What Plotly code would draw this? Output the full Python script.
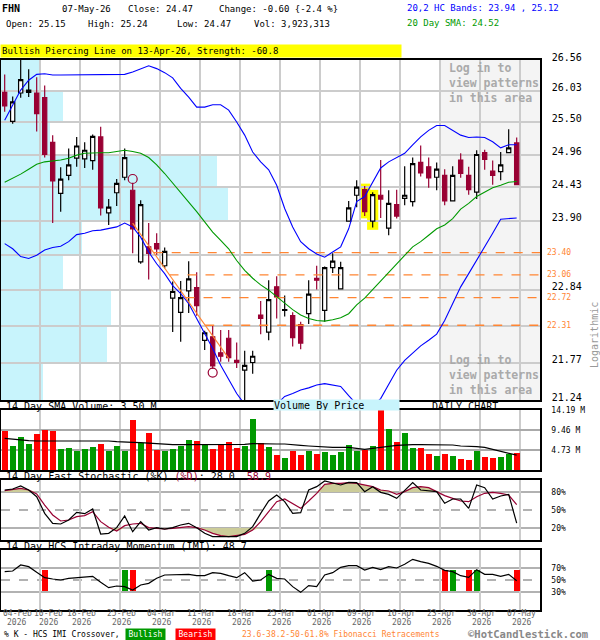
import math
import plotly.graph_objects as go

# ---- data (FHN daily, 04-Feb-26 .. 07-May-26) ----
tick_idx = [0, 4, 9, 14, 19, 24, 29, 34, 39, 44, 49, 54, 59, 64]
tick_lbl = ['04-Feb', '10-Feb', '18-Feb', '25-Feb', '04-Mar', '11-Mar', '18-Mar',
            '25-Mar', '01-Apr', '09-Apr', '16-Apr', '23-Apr', '30-Apr', '07-May']
tick_year = '2026'

open_ = [26.00, 25.51, 25.99, 26.00, 25.99, 25.91, 25.16, 24.33, 24.62, 24.90,
         24.89, 24.86, 25.25, 24.02, 24.34, 24.59, 24.38, 23.26, 23.49, 23.54,
         23.20, 22.71, 22.50, 22.82, 22.87, 22.09, 22.14, 21.91, 22.12, 21.80,
         21.66, 21.77, 22.46, 22.21, 22.88, 22.53, 22.45, 22.32, 22.48, 23.01,
         22.53, 23.17, 22.85, 23.89, 24.30, 24.39, 23.89, 24.30, 23.78, 24.15,
         24.25, 24.20, 24.83, 24.76, 24.59, 24.62, 24.21, 24.87, 24.62, 24.35,
         24.99, 24.69, 24.68, 24.99, 25.15]
high = [26.31, 25.93, 26.56, 26.40, 26.26, 26.12, 25.28, 24.75, 25.06, 25.25,
        25.16, 25.29, 25.42, 24.24, 24.56, 25.06, 24.50, 24.22, 23.86, 23.70,
        23.48, 22.96, 22.97, 23.27, 23.10, 22.23, 22.31, 22.24, 22.24, 22.06,
        21.94, 21.94, 22.67, 22.98, 23.04, 22.75, 22.50, 22.36, 22.98, 23.20,
        23.19, 23.39, 23.26, 24.21, 24.54, 24.45, 24.35, 24.87, 24.38, 24.39,
        24.77, 24.91, 25.11, 24.91, 24.83, 24.72, 24.77, 24.98, 24.76, 25.03,
        25.04, 24.86, 25.00, 25.38, 25.24]
low = [25.67, 25.47, 25.91, 25.92, 25.34, 24.91, 23.86, 24.04, 24.54, 24.76,
       24.74, 24.71, 23.98, 23.83, 24.13, 24.54, 23.39, 23.23, 22.99, 23.37,
       23.16, 22.21, 22.07, 22.49, 22.45, 21.95, 21.68, 21.78, 21.78, 21.69,
       21.24, 21.61, 22.18, 22.09, 22.41, 22.44, 22.00, 21.96, 22.33, 22.84,
       22.36, 23.09, 22.85, 23.88, 24.11, 23.97, 23.79, 23.94, 23.67, 23.93,
       24.14, 24.12, 24.60, 24.42, 24.38, 24.14, 24.21, 24.58, 24.31, 24.24,
       24.71, 24.47, 24.54, 24.99, 24.47]
close = [25.77, 25.84, 26.22, 26.04, 25.64, 24.96, 24.53, 24.56, 24.79, 25.10,
         25.03, 25.26, 24.10, 24.11, 24.49, 24.91, 23.77, 24.15, 23.39, 23.46,
         23.42, 22.81, 22.72, 23.00, 22.60, 22.20, 21.72, 21.86, 21.84, 21.77,
         21.73, 21.86, 22.41, 22.69, 22.73, 22.54, 22.13, 22.05, 22.77, 22.98,
         23.17, 23.27, 23.17, 24.10, 24.43, 24.04, 24.31, 24.24, 24.17, 23.97,
         24.30, 24.81, 24.66, 24.58, 24.72, 24.21, 24.62, 24.65, 24.39, 24.96,
         24.88, 24.62, 24.79, 25.07, 24.47]
volume = [9.30, 5.68, 7.80, 6.15, 8.51, 9.46, 9.30, 5.04, 5.20, 4.57,
          4.97, 5.44, 6.15, 4.57, 5.68, 4.57, 11.83, 6.46, 8.75, 4.73,
          4.57, 4.97, 5.75, 7.10, 6.86, 6.15, 4.97, 5.91, 6.54, 5.20,
          5.75, 12.06, 6.31, 5.44, 3.55, 2.84, 4.49, 3.55, 4.49, 3.78,
          4.26, 3.55, 4.26, 5.91, 4.57, 4.73, 5.68, 14.19, 9.70, 6.62,
          8.67, 5.20, 5.20, 3.78, 3.31, 3.78, 3.31, 2.68, 2.37, 4.49,
          3.07, 2.84, 3.07, 3.78, 3.923313]
vol_sma = [7.49, 7.25, 7.02, 6.94, 6.86, 6.86, 6.86, 6.86, 6.86, 6.86,
           6.86, 6.86, 6.94, 6.86, 6.70, 6.54, 6.54, 6.46, 6.31, 6.15,
           6.07, 6.00, 6.00, 6.00, 6.00, 6.00, 6.00, 6.07, 6.07, 6.07,
           6.07, 6.23, 6.15, 6.15, 6.15, 6.15, 5.91, 5.83, 5.68, 5.52,
           5.36, 5.36, 5.36, 5.36, 5.12, 4.89, 5.12, 5.44, 5.60, 5.83,
           6.00, 6.00, 6.00, 6.00, 6.00, 6.00, 5.91, 5.68, 5.68, 5.52,
           5.36, 4.89, 4.49, 4.10, 3.50]
band_up = [25.53, 25.78, 26.04, 26.21, 26.31, 26.32, 26.30, 26.30, 26.30, 26.30,
           26.30, 26.30, 26.30, 26.30, 26.30, 26.31, 26.35, 26.41, 26.46, 26.41,
           26.34, 26.25, 26.07, 25.92, 25.75, 25.75, 25.79, 25.79, 25.70, 25.50,
           25.28, 25.00, 24.84, 24.71, 24.46, 24.09, 23.80, 23.57, 23.46, 23.38,
           23.33, 23.41, 23.49, 23.77, 24.20, 24.28, 24.52, 24.74, 24.84, 24.91,
           24.98, 25.12, 25.25, 25.36, 25.44, 25.44, 25.36, 25.28, 25.24, 25.25,
           25.24, 25.17, 25.07, 25.12, 25.12]
band_lo = [23.54, 23.46, 23.34, 23.31, 23.36, 23.44, 23.48, 23.50, 23.57, 23.68,
           23.70, 23.74, 23.75, 23.77, 23.80, 23.86, 23.80, 23.64, 23.41, 23.23,
           23.08, 22.90, 22.78, 22.63, 22.41, 22.19, 21.97, 21.73, 21.52, 21.33,
           21.18, 21.10, 21.05, 21.08, 21.18, 21.29, 21.33, 21.38, 21.41, 21.45,
           21.47, 21.45, 21.43, 21.30, 21.18, 21.12, 21.15, 21.26, 21.45, 21.66,
           21.80, 21.91, 22.01, 22.09, 22.18, 22.38, 22.63, 22.88, 23.08, 23.28,
           23.49, 23.70, 23.92, 23.93, 23.94]
sma20 = [24.51, 24.57, 24.64, 24.72, 24.80, 24.84, 24.85, 24.87, 24.90, 24.95,
         24.98, 24.99, 24.99, 24.99, 25.01, 25.03, 25.01, 24.98, 24.91, 24.79,
         24.65, 24.49, 24.33, 24.19, 24.04, 23.88, 23.72, 23.59, 23.46, 23.28,
         23.13, 23.01, 22.91, 22.83, 22.73, 22.63, 22.54, 22.46, 22.41, 22.38,
         22.37, 22.39, 22.42, 22.48, 22.61, 22.71, 22.84, 22.98, 23.11, 23.23,
         23.36, 23.49, 23.57, 23.67, 23.77, 23.83, 23.93, 24.08, 24.17, 24.28,
         24.35, 24.42, 24.46, 24.51, 24.52]
stoch_k = [83.3, 85.0, 90.0, 83.3, 72.2, 44.4, 27.8, 26.7, 33.3, 46.1,
           43.9, 51.7, 10.0, 11.1, 20.6, 40.0, 13.9, 30.6, 16.7, 20.6,
           18.3, 20.6, 25.0, 27.8, 20.6, 11.1, 5.6, 5.6, 5.6, 5.6,
           11.1, 22.2, 44.4, 65.0, 75.0, 63.9, 44.4, 45.6, 83.3, 88.9,
           98.3, 94.4, 91.7, 96.1, 95.6, 80.6, 88.9, 79.4, 76.1, 69.4,
           83.3, 95.6, 83.3, 81.7, 80.6, 61.1, 68.3, 68.3, 52.8, 91.7,
           87.2, 68.3, 73.3, 76.1, 28.0]
stoch_d = [82.2, 84.4, 86.1, 83.3, 76.7, 58.3, 41.7, 31.7, 33.3, 38.9,
           40.6, 47.2, 30.6, 21.1, 15.0, 23.9, 26.7, 27.8, 20.6, 19.4,
           18.3, 19.4, 21.1, 22.2, 20.6, 16.7, 11.1, 7.2, 5.6, 7.2,
           9.4, 16.7, 30.6, 47.2, 63.9, 68.3, 61.1, 52.8, 65.0, 77.8,
           92.8, 94.4, 94.4, 95.6, 94.4, 91.7, 88.9, 83.3, 81.7, 76.1,
           80.6, 87.2, 88.9, 87.2, 80.6, 73.9, 69.4, 65.0, 63.9, 72.2,
           77.8, 79.4, 77.8, 75.0, 58.9]
imi = [63.9, 65.0, 75.0, 72.2, 62.8, 53.9, 51.7, 50.0, 52.8, 53.9,
       53.9, 56.1, 46.1, 37.2, 40.0, 38.9, 33.3, 41.7, 44.4, 52.8,
       58.3, 58.3, 59.4, 59.4, 57.2, 57.2, 62.2, 61.1, 57.2, 53.9,
       62.2, 48.3, 50.0, 59.4, 52.8, 51.7, 38.9, 29.4, 40.6, 38.9,
       58.3, 62.2, 71.1, 73.9, 73.9, 66.7, 71.1, 67.2, 72.2, 70.0,
       76.1, 84.4, 80.6, 77.8, 72.8, 66.1, 63.9, 57.2, 54.4, 67.2,
       59.4, 59.4, 56.1, 59.4, 48.7]
cross_idx = [5, 15, 16, 33, 55, 56, 58, 59, 64]
cross_bull = [False, True, False, True, False, True, False, True, False]

# volume by price (millions) per price band, top band first
vbp_edges = [26.56, 26.03, 25.50, 24.96, 24.43, 23.90, 23.37, 22.84, 22.30, 21.77, 21.24]
vbp_vol = [3.8, 6.2, 4.9, 21.6, 22.7, 8.1, 6.2, 11.0, 10.6, 4.2]

pattern_idx = [45, 46]          # Bullish Piercing Line candles
fib_hi_idx, fib_lo_idx = 16, 26
trend_x = [16, 28]
trend_y = [23.86, 21.83]
fib_levels = [23.40, 23.06, 22.72, 22.31]
login_from = 54                 # 23-Apr

# ---- styling ----
FONT = 'DejaVu Sans Mono'
RED_C = '#990033'
GRID = '#cccccc'
ORANGE = '#ff8533'
CYAN = '#c8f4fc'
N = len(close)
xs = list(range(N))
XR = [-0.46, 66.915]


def ppy(p):
    return (610 - p) / 550


def ppx(q):
    return (q - 1) / 539


fig = go.Figure()
shapes = []

# gray "log in" area
shapes.append(dict(type='rect', xref='x', yref='y domain', x0=login_from + 0.4, x1=XR[1],
                   y0=0, y1=1, fillcolor='#f4f4f4', line=dict(width=0), layer='below'))
shapes.append(dict(type='line', xref='x', yref='y domain', x0=login_from + 0.4,
                   x1=login_from + 0.4, y0=0, y1=1, line=dict(color='#999999', width=1.5),
                   layer='below'))

# volume by price bands (on the hidden x2 scale)
for k, v in enumerate(vbp_vol):
    shapes.append(dict(type='rect', xref='x2', yref='y', x0=0, x1=v,
                       y0=vbp_edges[k + 1], y1=vbp_edges[k], fillcolor=CYAN,
                       line=dict(width=0), layer='below'))

# pattern highlight
for i in pattern_idx:
    shapes.append(dict(type='rect', xref='x', yref='y', x0=i - 0.7, x1=i + 0.7,
                       y0=low[i] / 1.0015, y1=high[i] * 1.0015, fillcolor='#ffff00',
                       line=dict(width=0), layer='below'))

for ax, levels in (('4', (20, 50, 80)), ('5', (30, 50, 70))):
    for lv in levels:
        shapes.append(dict(type='line', xref=f'x{ax} domain', yref=f'y{ax}', x0=0, x1=1,
                           y0=lv, y1=lv, layer='below',
                           line=dict(color='#999999', width=1.5,
                                     dash='dash' if lv == 50 else 'solid')))

fig.add_trace(go.Candlestick(
    x=xs, open=open_, high=high, low=low, close=close,
    increasing=dict(line=dict(color='black', width=1.2), fillcolor='white'),
    decreasing=dict(line=dict(color=RED_C, width=1.2), fillcolor=RED_C),
    whiskerwidth=0, hoverinfo='skip'))


# fibonacci retracement lines start where the trend line crosses them
def fib_start(level):
    l0, l1 = math.log(trend_y[0]), math.log(trend_y[1])
    t = (l0 - math.log(level)) / (l0 - l1)
    return trend_x[0] + t * (trend_x[1] - trend_x[0])


for lv in fib_levels:
    fig.add_trace(go.Scatter(x=[fib_start(lv), XR[1]], y=[lv, lv], mode='lines',
                             line=dict(color=ORANGE, width=1.3, dash='dash')))

fig.add_trace(go.Scatter(x=xs, y=band_up, mode='lines', line=dict(color='#0000ff', width=1.1)))
fig.add_trace(go.Scatter(x=xs, y=band_lo, mode='lines', line=dict(color='#0000ff', width=1.1)))
fig.add_trace(go.Scatter(x=xs, y=sma20, mode='lines', line=dict(color='#009900', width=1.1)))
fig.add_trace(go.Scatter(x=trend_x, y=trend_y, mode='lines', line=dict(color=ORANGE, width=1.1)))
fig.add_trace(go.Scatter(x=[fib_hi_idx, fib_lo_idx],
                         y=[high[fib_hi_idx] * 1.0025, low[fib_lo_idx] / 1.0025],
                         mode='markers', marker=dict(symbol='circle-open', size=9,
                                                     color=RED_C, line=dict(width=1.2))))

# volume panel
vcol = ['#009900' if c >= o else '#ff0000' for o, c in zip(open_, close)]
fig.add_trace(go.Bar(x=xs, y=volume, marker=dict(color=vcol, line=dict(width=0)), width=0.75,
                     xaxis='x3', yaxis='y3'))
fig.add_trace(go.Scatter(x=xs, y=vol_sma, mode='lines', line=dict(color='black', width=1.2),
                         xaxis='x3', yaxis='y3'))

# stochastic panel
fig.add_trace(go.Scatter(x=xs, y=[80] * N, mode='lines', line=dict(width=0), xaxis='x4', yaxis='y4'))
fig.add_trace(go.Scatter(x=xs, y=[max(d, 80) for d in stoch_d], mode='lines', line=dict(width=0),
                         fill='tonexty', fillcolor='#cccc99', xaxis='x4', yaxis='y4'))
fig.add_trace(go.Scatter(x=xs, y=[20] * N, mode='lines', line=dict(width=0), xaxis='x4', yaxis='y4'))
fig.add_trace(go.Scatter(x=xs, y=[min(d, 20) for d in stoch_d], mode='lines', line=dict(width=0),
                         fill='tonexty', fillcolor='#cccc99', xaxis='x4', yaxis='y4'))
fig.add_trace(go.Scatter(x=xs, y=stoch_d, mode='lines', line=dict(color=RED_C, width=1.2),
                         xaxis='x4', yaxis='y4'))
fig.add_trace(go.Scatter(x=xs, y=stoch_k, mode='lines', line=dict(color='black', width=1.2),
                         xaxis='x4', yaxis='y4'))

# IMI panel
fig.add_trace(go.Bar(x=cross_idx, y=[36] * len(cross_idx), base=31.5, width=0.75,
                     marker=dict(color=['#009900' if b else '#ff0000' for b in cross_bull],
                                 line=dict(width=0)), xaxis='x5', yaxis='y5'))
fig.add_trace(go.Scatter(x=xs, y=imi, mode='lines', line=dict(color='black', width=1.2),
                         xaxis='x5', yaxis='y5'))

# ---- axes ----
grid_x = [i + 0.4 for i in tick_idx[1:]]
xbase = dict(range=XR, tickvals=grid_x, showticklabels=False, showgrid=True, gridcolor=GRID,
             gridwidth=1.5, showline=True, mirror=True, linecolor='black', linewidth=1.5,
             zeroline=False, ticks='', automargin=False)
ytick_base = dict(side='right', showline=True, mirror=True, linecolor='black', linewidth=1.5,
                  zeroline=False, ticks='outside', ticklen=8, tickcolor='white', automargin=False,
                  tickfont=dict(family=FONT, size=8, color='black'))

ytext = []
for v in vbp_edges:
    ytext.append('' if any(abs(v - f) < 0.05 for f in fib_levels) else f'{v:.2f}')

fig.update_layout(
    width=600, height=640, margin=dict(l=1, r=60, t=60, b=30, autoexpand=False),
    paper_bgcolor='white', plot_bgcolor='white', showlegend=False, hovermode=False,
    font=dict(family=FONT, color='black'), boxgap=0.25, bargap=0,
    xaxis=dict(xbase, anchor='y', rangeslider=dict(visible=False)),
    yaxis=dict(ytick_base, domain=[210 / 550, 1], anchor='x', type='log',
               range=[math.log10(vbp_edges[-1]), math.log10(vbp_edges[0])],
               tickvals=vbp_edges, ticktext=ytext, showgrid=True, gridcolor=GRID, gridwidth=1.5,
               ticklabelshift=-3, tickfont=dict(family=FONT, size=10, color='black')),
    xaxis2=dict(overlaying='x', anchor='y', range=[0, 53.9], visible=False),
    xaxis3=dict(xbase, anchor='y3'),
    yaxis3=dict(ytick_base, domain=[140 / 550, 200 / 550], anchor='x3', range=[0, 14.19],
                tickvals=[4.73, 9.46, 14.19], ticktext=['4.73 M', '9.46 M', '14.19 M'],
                showgrid=True, gridcolor='#aaaaaa', gridwidth=1.5),
    xaxis4=dict(xbase, anchor='y4'),
    yaxis4=dict(ytick_base, domain=[70 / 550, 130 / 550], anchor='x4', range=[0, 100],
                tickvals=[20, 50, 80], ticktext=['20%', '50%', '80%'], showgrid=False),
    xaxis5=dict(xbase, anchor='y5'),
    yaxis5=dict(ytick_base, domain=[0, 60 / 550], anchor='x5', range=[0, 100],
                tickvals=[30, 50, 70], ticktext=['30%', '50%', '70%'], showgrid=False),
    shapes=shapes,
)

# ---- text ----
ann = []


def txt(s, xp, yp, size=9, color='black', **kw):
    d = dict(text=s, x=ppx(xp), y=ppy(yp), xref='paper', yref='paper', xanchor='left',
             yanchor='middle', showarrow=False, font=dict(family=FONT, size=size, color=color))
    d.update(kw)
    ann.append(d)


chg = close[-1] - close[-2]
pct = chg / close[-2] * 100
txt('<b>FHN</b>', 0, 9, size=10)
txt('07-May-26', 60, 9)
txt(f'Close: {close[-1]:.2f}', 126, 9)
txt(f'Change: {chg:.2f} {{{pct:.1f} %}}', 217, 9)
txt(f'Open: {open_[-1]:.2f}', 4, 24)
txt(f'High: {high[-1]:.2f}', 86, 24)
txt(f'Low: {low[-1]:.2f}', 175, 24)
txt(f'Vol: {int(round(volume[-1] * 1e6)):,}', 252, 24)
txt(f'20,2 HC Bands: {band_lo[-1]:.2f} , {band_up[-1]:.2f}', 405, 8, color='#0000ff')
txt(f'20 Day SMA: {sma20[-1]:.2f}', 405, 23, color='#009900')
txt('Bullish Piercing Line on 13-Apr-26, Strength: -60.8', 0, 51, size=9,
    bgcolor='#ffff00', width=398, align='left', borderpad=1)

login = 'Log in to<br>view patterns<br>in this area'
txt(f'<b>{login}</b>', 447, 59, size=11.5, color='#aaaaaa', yanchor='top', align='left')
txt(f'<b>{login}</b>', 447, 351, size=11.5, color='#aaaaaa', yanchor='top', align='left')

txt(f'14 Day SMA Volume: {vol_sma[-1]:.2f} M', 4, 406.5, size=10)
txt('Volume By Price', 273, 405, size=10, bgcolor=CYAN, width=125, height=10, align='left',
    borderpad=0)
txt('DAILY CHART', 430, 406.5, size=10)
sp = '\u00a0'
txt(f'14 Day Fast Stochastic (%K) <span style="color:{RED_C}">(%D)</span>: {stoch_k[-1]:.1f}'
    f'{sp}{sp}<span style="color:{RED_C}">{stoch_d[-1]:.1f}</span>', 4, 476.5, size=10)
txt(f'14 Day HCS Intraday Momentum (IMI): {imi[-1]:.1f}', 4, 546.5, size=10)

for lv in fib_levels:
    ann.append(dict(text=f'{lv:.2f}', x=ppx(545), y=math.log10(lv), xref='paper', yref='y',
                    xanchor='left', yanchor='middle', showarrow=False,
                    font=dict(family=FONT, size=8, color=ORANGE)))

txt('Logarithmic', 594, 335, size=10, color='#999999', textangle=-90, xanchor='center')

for k, (i, lbl) in enumerate(zip(tick_idx, tick_lbl)):
    for text, ypix in ((lbl, 613.5), (tick_year, 622)):
        d = dict(text=text, xref='x5', yref='paper', y=ppy(ypix), yanchor='middle',
                 showarrow=False, font=dict(family=FONT, size=8, color='#666666'))
        if k == 0:
            d.update(x=i, xanchor='left', xshift=-4 if text == lbl else 0)
        elif k == 1:
            d.update(x=i + 0.4, xanchor='center', xshift=9)
        else:
            d.update(x=i + 0.4, xanchor='center', xshift=2)
        ann.append(d)

txt('% K - HCS IMI Crossover,', 2, 634, size=8)
txt('Bullish', 125, 634, size=8, color='white', bgcolor='#009900', width=37, borderpad=1)
txt('Bearish', 175, 634, size=8, color='white', bgcolor='#ff0000', width=37, borderpad=1)
txt('23.6-38.2-50-61.8% Fibonacci Retracements', 240, 634, size=8, color=ORANGE)
txt('<b>\u00a9HotCandlestick.com</b>', 466, 633.5, size=10.5, color='#888888')

fig.update_layout(annotations=ann)
fig.write_html('out.html', config={'displayModeBar': False},
               post_script="document.body.style.margin='0';")
